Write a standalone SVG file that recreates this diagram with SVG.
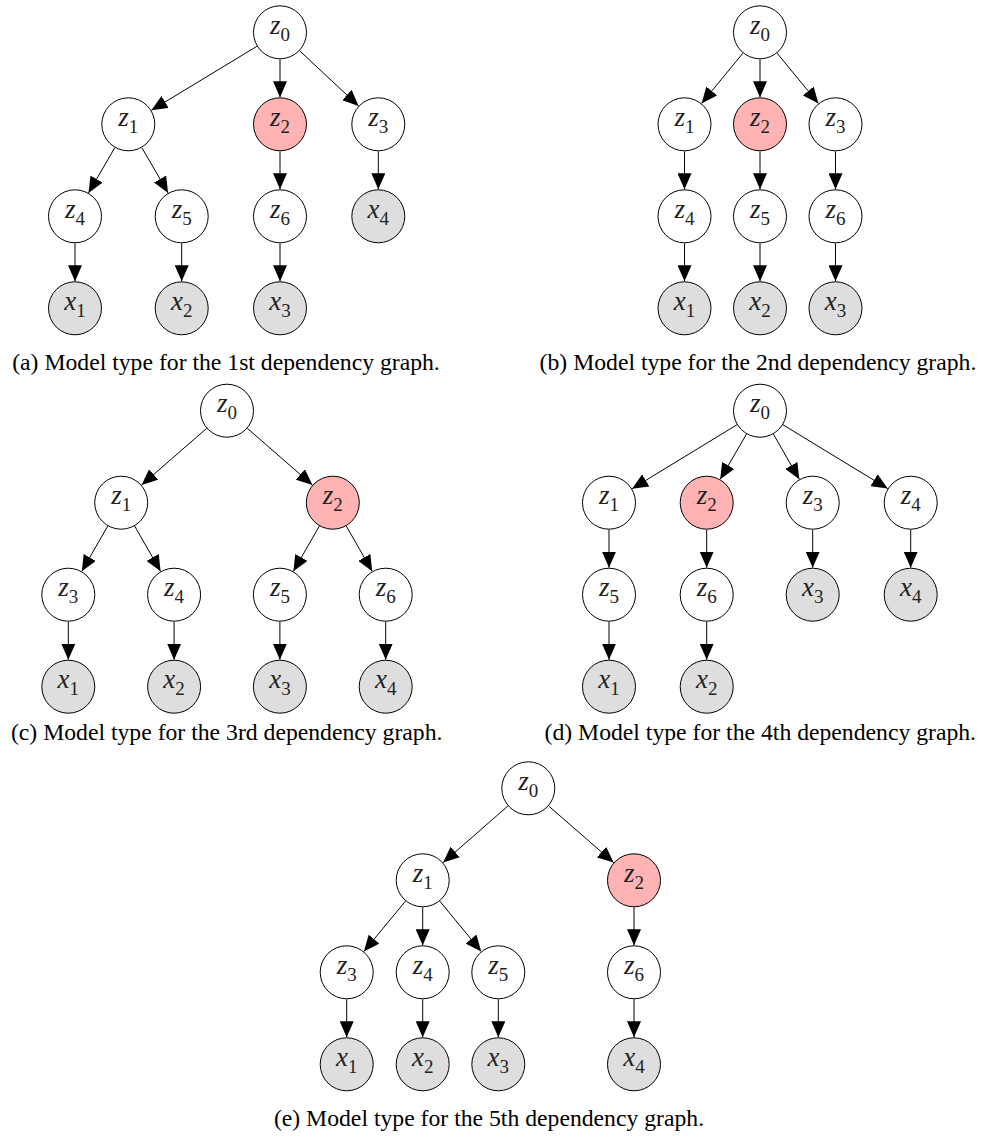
<svg xmlns="http://www.w3.org/2000/svg" width="984" height="1137" viewBox="0 0 984 1137">
<style>
.n{fill:#fff;stroke:#000;stroke-width:1}
.h{fill:#FFB3B3;stroke:#000;stroke-width:1}
.o{fill:#DEDEDE;stroke:#000;stroke-width:1}
.lb{font-family:"Liberation Serif","Times New Roman",serif;font-style:italic;font-size:27px;fill:#222;text-anchor:middle}
.lb tspan{font-style:normal;font-size:19px}
.e line{stroke:#000;stroke-width:1;fill:none;marker-end:url(#ah)}
.cap{font-family:"Liberation Serif","Times New Roman",serif;font-size:23.7px;fill:#000;text-anchor:middle}
</style>
<defs>
<marker id="ah" markerUnits="userSpaceOnUse" markerWidth="16" markerHeight="14" refX="16" refY="7" orient="auto">
<path d="M0,0 L16,7 L0,14 Z" fill="#000"/>
</marker>
</defs>
<rect width="984" height="1137" fill="#fff"/>

<!-- Panel (a) -->
<g id="panel-a">
<g id="a-edges" class="e">
<line x1="256.9" y1="46.3" x2="151.4" y2="110.3"/>
<line x1="280" y1="59.3" x2="280" y2="97.3"/>
<line x1="299.7" y1="50.8" x2="358.6" y2="105.9"/>
<line x1="114.8" y1="147.7" x2="88.5" y2="192.9"/>
<line x1="141.9" y1="147.7" x2="168.1" y2="192.9"/>
<line x1="280" y1="151.3" x2="280" y2="189.3"/>
<line x1="378.3" y1="151.3" x2="378.3" y2="189.3"/>
<line x1="75" y1="243.3" x2="75" y2="281.3"/>
<line x1="181.7" y1="243.3" x2="181.7" y2="281.3"/>
<line x1="280" y1="243.3" x2="280" y2="281.3"/>
</g>
<g id="a-z0"><circle class="n" cx="280" cy="32.3" r="26.5"/><text class="lb" x="280" y="34">z<tspan dy="7">0</tspan></text></g>
<g id="a-z1"><circle class="n" cx="128.3" cy="124.3" r="26.5"/><text class="lb" x="128.3" y="126">z<tspan dy="7">1</tspan></text></g>
<g id="a-z2"><circle class="h" cx="280" cy="124.3" r="26.5"/><text class="lb" x="280" y="126">z<tspan dy="7">2</tspan></text></g>
<g id="a-z3"><circle class="n" cx="378.3" cy="124.3" r="26.5"/><text class="lb" x="378.3" y="126">z<tspan dy="7">3</tspan></text></g>
<g id="a-z4"><circle class="n" cx="75" cy="216.3" r="26.5"/><text class="lb" x="75" y="218">z<tspan dy="7">4</tspan></text></g>
<g id="a-z5"><circle class="n" cx="181.7" cy="216.3" r="26.5"/><text class="lb" x="181.7" y="218">z<tspan dy="7">5</tspan></text></g>
<g id="a-z6"><circle class="n" cx="280" cy="216.3" r="26.5"/><text class="lb" x="280" y="218">z<tspan dy="7">6</tspan></text></g>
<g id="a-x4"><circle class="o" cx="378.3" cy="216.3" r="26.5"/><text class="lb" x="378.3" y="218">x<tspan dy="7">4</tspan></text></g>
<g id="a-x1"><circle class="o" cx="75" cy="308.3" r="26.5"/><text class="lb" x="75" y="310">x<tspan dy="7">1</tspan></text></g>
<g id="a-x2"><circle class="o" cx="181.7" cy="308.3" r="26.5"/><text class="lb" x="181.7" y="310">x<tspan dy="7">2</tspan></text></g>
<g id="a-x3"><circle class="o" cx="280" cy="308.3" r="26.5"/><text class="lb" x="280" y="310">x<tspan dy="7">3</tspan></text></g>
<text class="cap" x="226" y="369.5">(a) Model type for the 1st dependency graph.</text>
</g>

<!-- Panel (b) -->
<g id="panel-b">
<g id="b-edges" class="e">
<line x1="742.9" y1="53.2" x2="701.6" y2="103.4"/>
<line x1="760" y1="59.3" x2="760" y2="97.3"/>
<line x1="777.1" y1="53.2" x2="818.4" y2="103.4"/>
<line x1="684.5" y1="151.3" x2="684.5" y2="189.3"/>
<line x1="760" y1="151.3" x2="760" y2="189.3"/>
<line x1="835.5" y1="151.3" x2="835.5" y2="189.3"/>
<line x1="684.5" y1="243.3" x2="684.5" y2="281.3"/>
<line x1="760" y1="243.3" x2="760" y2="281.3"/>
<line x1="835.5" y1="243.3" x2="835.5" y2="281.3"/>
</g>
<g id="b-z0"><circle class="n" cx="760" cy="32.3" r="26.5"/><text class="lb" x="760" y="34">z<tspan dy="7">0</tspan></text></g>
<g id="b-z1"><circle class="n" cx="684.5" cy="124.3" r="26.5"/><text class="lb" x="684.5" y="126">z<tspan dy="7">1</tspan></text></g>
<g id="b-z2"><circle class="h" cx="760" cy="124.3" r="26.5"/><text class="lb" x="760" y="126">z<tspan dy="7">2</tspan></text></g>
<g id="b-z3"><circle class="n" cx="835.5" cy="124.3" r="26.5"/><text class="lb" x="835.5" y="126">z<tspan dy="7">3</tspan></text></g>
<g id="b-z4"><circle class="n" cx="684.5" cy="216.3" r="26.5"/><text class="lb" x="684.5" y="218">z<tspan dy="7">4</tspan></text></g>
<g id="b-z5"><circle class="n" cx="760" cy="216.3" r="26.5"/><text class="lb" x="760" y="218">z<tspan dy="7">5</tspan></text></g>
<g id="b-z6"><circle class="n" cx="835.5" cy="216.3" r="26.5"/><text class="lb" x="835.5" y="218">z<tspan dy="7">6</tspan></text></g>
<g id="b-x1"><circle class="o" cx="684.5" cy="308.3" r="26.5"/><text class="lb" x="684.5" y="310">x<tspan dy="7">1</tspan></text></g>
<g id="b-x2"><circle class="o" cx="760" cy="308.3" r="26.5"/><text class="lb" x="760" y="310">x<tspan dy="7">2</tspan></text></g>
<g id="b-x3"><circle class="o" cx="835.5" cy="308.3" r="26.5"/><text class="lb" x="835.5" y="310">x<tspan dy="7">3</tspan></text></g>
<text class="cap" x="758" y="369.5">(b) Model type for the 2nd dependency graph.</text>
</g>

<!-- Panel (c) -->
<g id="panel-c">
<g id="c-edges" class="e">
<line x1="206.6" y1="428.4" x2="141.6" y2="485.0"/>
<line x1="247.4" y1="428.4" x2="312.4" y2="485.0"/>
<line x1="107.7" y1="526.1" x2="81.8" y2="571.3"/>
<line x1="134.7" y1="526.1" x2="160.6" y2="571.3"/>
<line x1="319.3" y1="526.1" x2="293.4" y2="571.3"/>
<line x1="346.3" y1="526.1" x2="372.2" y2="571.3"/>
<line x1="68.3" y1="621.7" x2="68.3" y2="659.7"/>
<line x1="174.1" y1="621.7" x2="174.1" y2="659.7"/>
<line x1="279.9" y1="621.7" x2="279.9" y2="659.7"/>
<line x1="385.7" y1="621.7" x2="385.7" y2="659.7"/>
</g>
<g id="c-z0"><circle class="n" cx="227" cy="410.7" r="26.5"/><text class="lb" x="227" y="412.4">z<tspan dy="7">0</tspan></text></g>
<g id="c-z1"><circle class="n" cx="121.2" cy="502.7" r="26.5"/><text class="lb" x="121.2" y="504.4">z<tspan dy="7">1</tspan></text></g>
<g id="c-z2"><circle class="h" cx="332.8" cy="502.7" r="26.5"/><text class="lb" x="332.8" y="504.4">z<tspan dy="7">2</tspan></text></g>
<g id="c-z3"><circle class="n" cx="68.3" cy="594.7" r="26.5"/><text class="lb" x="68.3" y="596.4">z<tspan dy="7">3</tspan></text></g>
<g id="c-z4"><circle class="n" cx="174.1" cy="594.7" r="26.5"/><text class="lb" x="174.1" y="596.4">z<tspan dy="7">4</tspan></text></g>
<g id="c-z5"><circle class="n" cx="279.9" cy="594.7" r="26.5"/><text class="lb" x="279.9" y="596.4">z<tspan dy="7">5</tspan></text></g>
<g id="c-z6"><circle class="n" cx="385.7" cy="594.7" r="26.5"/><text class="lb" x="385.7" y="596.4">z<tspan dy="7">6</tspan></text></g>
<g id="c-x1"><circle class="o" cx="68.3" cy="686.7" r="26.5"/><text class="lb" x="68.3" y="688.4">x<tspan dy="7">1</tspan></text></g>
<g id="c-x2"><circle class="o" cx="174.1" cy="686.7" r="26.5"/><text class="lb" x="174.1" y="688.4">x<tspan dy="7">2</tspan></text></g>
<g id="c-x3"><circle class="o" cx="279.9" cy="686.7" r="26.5"/><text class="lb" x="279.9" y="688.4">x<tspan dy="7">3</tspan></text></g>
<g id="c-x4"><circle class="o" cx="385.7" cy="686.7" r="26.5"/><text class="lb" x="385.7" y="688.4">x<tspan dy="7">4</tspan></text></g>
<text class="cap" x="226.7" y="740">(c) Model type for the 3rd dependency graph.</text>
</g>

<!-- Panel (d) -->
<g id="panel-d">
<g id="d-edges" class="e">
<line x1="736.9" y1="424.8" x2="632.1" y2="488.7"/>
<line x1="746.5" y1="434.1" x2="720.2" y2="479.3"/>
<line x1="773.4" y1="434.1" x2="799.3" y2="479.3"/>
<line x1="783.0" y1="424.8" x2="887.7" y2="488.6"/>
<line x1="609" y1="529.7" x2="609" y2="567.7"/>
<line x1="706.7" y1="529.7" x2="706.7" y2="567.7"/>
<line x1="812.7" y1="529.7" x2="812.7" y2="567.7"/>
<line x1="910.7" y1="529.7" x2="910.7" y2="567.7"/>
<line x1="609" y1="621.7" x2="609" y2="659.7"/>
<line x1="706.7" y1="621.7" x2="706.7" y2="659.7"/>
</g>
<g id="d-z0"><circle class="n" cx="760" cy="410.7" r="26.5"/><text class="lb" x="760" y="412.4">z<tspan dy="7">0</tspan></text></g>
<g id="d-z1"><circle class="n" cx="609" cy="502.7" r="26.5"/><text class="lb" x="609" y="504.4">z<tspan dy="7">1</tspan></text></g>
<g id="d-z2"><circle class="h" cx="706.7" cy="502.7" r="26.5"/><text class="lb" x="706.7" y="504.4">z<tspan dy="7">2</tspan></text></g>
<g id="d-z3"><circle class="n" cx="812.7" cy="502.7" r="26.5"/><text class="lb" x="812.7" y="504.4">z<tspan dy="7">3</tspan></text></g>
<g id="d-z4"><circle class="n" cx="910.7" cy="502.7" r="26.5"/><text class="lb" x="910.7" y="504.4">z<tspan dy="7">4</tspan></text></g>
<g id="d-z5"><circle class="n" cx="609" cy="594.7" r="26.5"/><text class="lb" x="609" y="596.4">z<tspan dy="7">5</tspan></text></g>
<g id="d-z6"><circle class="n" cx="706.7" cy="594.7" r="26.5"/><text class="lb" x="706.7" y="596.4">z<tspan dy="7">6</tspan></text></g>
<g id="d-x3"><circle class="o" cx="812.7" cy="594.7" r="26.5"/><text class="lb" x="812.7" y="596.4">x<tspan dy="7">3</tspan></text></g>
<g id="d-x4"><circle class="o" cx="910.7" cy="594.7" r="26.5"/><text class="lb" x="910.7" y="596.4">x<tspan dy="7">4</tspan></text></g>
<g id="d-x1"><circle class="o" cx="609" cy="686.7" r="26.5"/><text class="lb" x="609" y="688.4">x<tspan dy="7">1</tspan></text></g>
<g id="d-x2"><circle class="o" cx="706.7" cy="686.7" r="26.5"/><text class="lb" x="706.7" y="688.4">x<tspan dy="7">2</tspan></text></g>
<text class="cap" x="760.3" y="740">(d) Model type for the 4th dependency graph.</text>
</g>

<!-- Panel (e) -->
<g id="panel-e">
<g id="e-edges" class="e">
<line x1="507.9" y1="806.0" x2="443.1" y2="862.6"/>
<line x1="548.7" y1="806.0" x2="613.6" y2="862.6"/>
<line x1="405.5" y1="901.1" x2="363.9" y2="951.5"/>
<line x1="422.7" y1="907.3" x2="422.7" y2="945.3"/>
<line x1="439.8" y1="901.2" x2="481.2" y2="951.4"/>
<line x1="634" y1="907.3" x2="634" y2="945.3"/>
<line x1="346.7" y1="999.3" x2="346.7" y2="1037.3"/>
<line x1="422.7" y1="999.3" x2="422.7" y2="1037.3"/>
<line x1="498.3" y1="999.3" x2="498.3" y2="1037.3"/>
<line x1="634" y1="999.3" x2="634" y2="1037.3"/>
</g>
<g id="e-z0"><circle class="n" cx="528.3" cy="788.3" r="26.5"/><text class="lb" x="528.3" y="790">z<tspan dy="7">0</tspan></text></g>
<g id="e-z1"><circle class="n" cx="422.7" cy="880.3" r="26.5"/><text class="lb" x="422.7" y="882">z<tspan dy="7">1</tspan></text></g>
<g id="e-z2"><circle class="h" cx="634" cy="880.3" r="26.5"/><text class="lb" x="634" y="882">z<tspan dy="7">2</tspan></text></g>
<g id="e-z3"><circle class="n" cx="346.7" cy="972.3" r="26.5"/><text class="lb" x="346.7" y="974">z<tspan dy="7">3</tspan></text></g>
<g id="e-z4"><circle class="n" cx="422.7" cy="972.3" r="26.5"/><text class="lb" x="422.7" y="974">z<tspan dy="7">4</tspan></text></g>
<g id="e-z5"><circle class="n" cx="498.3" cy="972.3" r="26.5"/><text class="lb" x="498.3" y="974">z<tspan dy="7">5</tspan></text></g>
<g id="e-z6"><circle class="n" cx="634" cy="972.3" r="26.5"/><text class="lb" x="634" y="974">z<tspan dy="7">6</tspan></text></g>
<g id="e-x1"><circle class="o" cx="346.7" cy="1064.3" r="26.5"/><text class="lb" x="346.7" y="1066">x<tspan dy="7">1</tspan></text></g>
<g id="e-x2"><circle class="o" cx="422.7" cy="1064.3" r="26.5"/><text class="lb" x="422.7" y="1066">x<tspan dy="7">2</tspan></text></g>
<g id="e-x3"><circle class="o" cx="498.3" cy="1064.3" r="26.5"/><text class="lb" x="498.3" y="1066">x<tspan dy="7">3</tspan></text></g>
<g id="e-x4"><circle class="o" cx="634" cy="1064.3" r="26.5"/><text class="lb" x="634" y="1066">x<tspan dy="7">4</tspan></text></g>
<text class="cap" x="489" y="1126">(e) Model type for the 5th dependency graph.</text>
</g>
</svg>
